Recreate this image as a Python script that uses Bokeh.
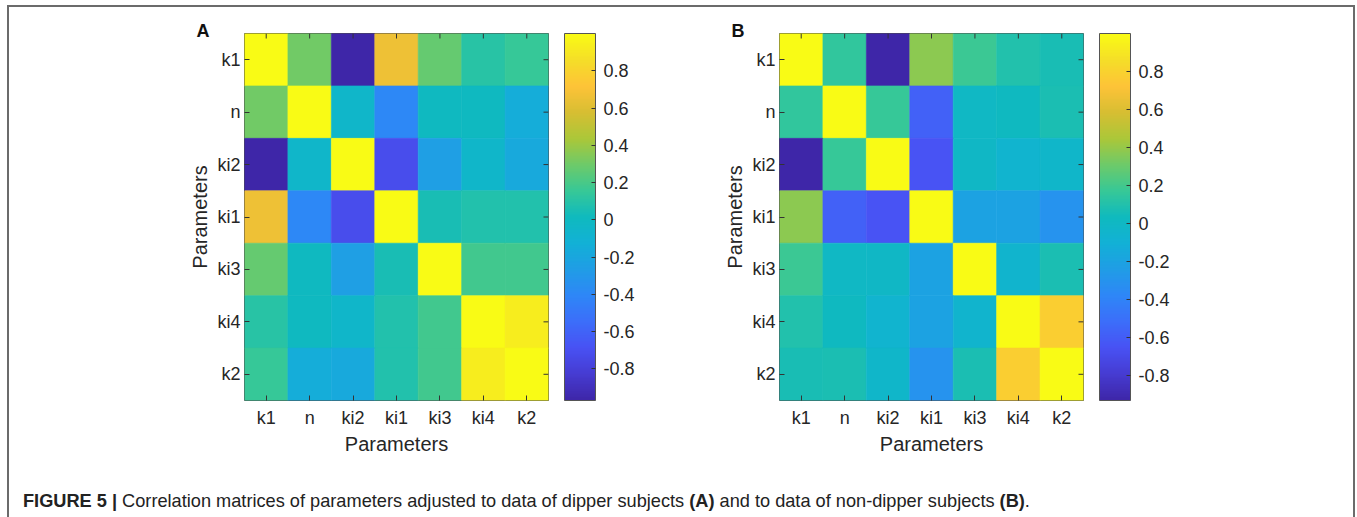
import numpy as np
from bokeh.plotting import figure
from bokeh.models import (ColumnDataSource, LinearColorMapper, ColorBar, FixedTicker,
                          PrintfTickFormatter, Div)
from bokeh.layouts import row, column
from bokeh.embed import file_html
from bokeh.resources import INLINE

# ---------------- data ----------------
params = ["k1", "n", "ki2", "ki1", "ki3", "ki4", "k2"]

corr_A = [
    [1.00, 0.30, -0.97, 0.66, 0.27, 0.10, 0.15],
    [0.30, 1.00, -0.05, -0.40, 0.00, 0.00, -0.15],
    [-0.97, -0.05, 1.00, -0.72, -0.25, -0.05, -0.18],
    [0.66, -0.40, -0.72, 1.00, 0.05, 0.08, 0.08],
    [0.27, 0.00, -0.25, 0.05, 1.00, 0.18, 0.18],
    [0.10, 0.00, -0.05, 0.08, 0.18, 1.00, 0.93],
    [0.15, -0.15, -0.18, 0.08, 0.18, 0.93, 1.00],
]
corr_B = [
    [1.00, 0.15, -0.93, 0.38, 0.18, 0.10, 0.07],
    [0.15, 1.00, 0.17, -0.58, 0.00, 0.02, 0.08],
    [-0.93, 0.17, 1.00, -0.65, -0.01, -0.06, -0.03],
    [0.38, -0.58, -0.65, 1.00, -0.20, -0.20, -0.30],
    [0.18, 0.00, -0.01, -0.20, 1.00, -0.05, 0.08],
    [0.10, 0.02, -0.06, -0.20, -0.05, 1.00, 0.78],
    [0.07, 0.08, -0.03, -0.30, 0.08, 0.78, 1.00],
]
cbar_ticks = [-0.8, -0.6, -0.4, -0.2, 0, 0.2, 0.4, 0.6, 0.8]
panel_labels = ["A", "B"]
axis_title = "Parameters"

# ---------------- parula-like palette ----------------
anchors = [
    (0.000, (62, 38, 168)), (0.071, (70, 60, 210)), (0.143, (72, 82, 244)),
    (0.214, (60, 110, 250)), (0.286, (46, 135, 247)), (0.357, (32, 157, 230)),
    (0.429, (18, 177, 214)), (0.500, (15, 186, 190)), (0.571, (55, 200, 151)),
    (0.643, (110, 202, 105)), (0.714, (171, 199, 57)), (0.786, (215, 190, 50)),
    (0.857, (254, 195, 56)), (0.929, (245, 222, 40)), (1.000, (249, 251, 21)),
]
ts = np.linspace(0, 1, 256)
at = [a[0] for a in anchors]
chans = [np.interp(ts, at, [a[1][i] for a in anchors]) for i in range(3)]
parula = ["#%02x%02x%02x" % (int(round(r)), int(round(g)), int(round(b)))
          for r, g, b in zip(*chans)]

FONT = "Liberation Sans"
TXT = "#262626"
TICK = "#333333"


def make_panel(mat, letter, width, left, right):
    xs, ys, vs = [], [], []
    for i, rname in enumerate(params):
        for j, cname in enumerate(params):
            xs.append(cname)
            ys.append(rname)
            vs.append(mat[i][j])
    src = ColumnDataSource(dict(x=xs, y=ys, v=vs))
    mapper = LinearColorMapper(palette=parula, low=min(vs), high=max(vs))

    p = figure(width=width, height=460, x_range=params, y_range=list(reversed(params)),
               output_backend="svg", toolbar_location=None,
               min_border_left=left, min_border_right=right,
               min_border_top=33, min_border_bottom=60)
    p.border_fill_color = None
    p.outline_line_color = "#4d4d4d"
    p.outline_line_width = 1
    p.grid.visible = False

    p.rect(x="x", y="y", width=1, height=1, source=src,
           fill_color={"field": "v", "transform": mapper},
           line_color={"field": "v", "transform": mapper}, line_width=0.6)

    # inner ticks on the top and right edges (box style)
    top_edge = [[params[0], 0.5]] * len(params)
    right_edge = [[params[-1], 0.5]] * len(params)
    p.ray(x=params, y=top_edge, length=5, length_units="screen", angle=-np.pi / 2,
          line_color=TICK, line_width=1)
    p.ray(x=right_edge, y=params, length=5, length_units="screen", angle=np.pi,
          line_color=TICK, line_width=1)

    for ax in (p.xaxis[0], p.yaxis[0]):
        ax.axis_line_color = None
        ax.major_tick_in = 5
        ax.major_tick_out = 0
        ax.major_tick_line_color = TICK
        ax.major_label_text_font = FONT
        ax.major_label_text_font_size = "18px"
        ax.major_label_text_color = TXT
        ax.axis_label = axis_title
        ax.axis_label_text_font = FONT
        ax.axis_label_text_font_size = "20px"
        ax.axis_label_text_font_style = "normal"
        ax.axis_label_text_color = TXT
    p.xaxis.major_label_standoff = 7
    p.xaxis.axis_label_standoff = 2
    p.yaxis.major_label_standoff = 4
    p.yaxis.axis_label_standoff = 3

    cb = ColorBar(color_mapper=mapper, ticker=FixedTicker(ticks=cbar_ticks),
                  formatter=PrintfTickFormatter(format="%g"),
                  width=31, height=367, padding=0, margin=0, location=(16, 0),
                  major_tick_in=4, major_tick_out=0, major_tick_line_color=TICK,
                  label_standoff=8, major_label_text_font=FONT,
                  major_label_text_font_size="18px", major_label_text_color=TXT,
                  bar_line_color="#555555", border_line_color=None,
                  background_fill_color=None)
    p.add_layout(cb, "right")

    p.title.text = letter
    p.title.align = "left"
    p.title.offset = -48
    p.title.standoff = -15
    p.title.text_baseline = "alphabetic"
    p.title.text_font = FONT
    p.title.text_font_size = "18px"
    p.title.text_font_style = "bold"
    p.title.text_color = "#111111"
    return p


pA = make_panel(corr_A, panel_labels[0], 680, 244, 132)
pB = make_panel(corr_B, panel_labels[1], 677, 99, 274)

caption = Div(
    text=("<b>FIGURE 5 |</b> Correlation matrices of parameters adjusted to data of dipper "
          "subjects <b>(A)</b> and to data of non-dipper subjects <b>(B)</b>."),
    width=1357, height=57,
    styles={"font-family": "Liberation Sans", "font-size": "18.2px", "color": "#222222",
            "padding-left": "18px", "padding-top": "23px", "box-sizing": "border-box",
            "white-space": "nowrap"})

page = column(row(pA, pB), caption,
              styles={"background-color": "white",
                      "background-image": ("linear-gradient(#6b6b6b,#6b6b6b),"
                                           "linear-gradient(#6b6b6b,#6b6b6b),"
                                           "linear-gradient(#6b6b6b,#6b6b6b)"),
                      "background-size": "2px 100%, 1347px 2px, 2px 100%",
                      "background-position": "7px 5px, 7px 5px, 1353px 5px",
                      "background-repeat": "no-repeat"})

open("out.html", "w").write(file_html(page, INLINE))
